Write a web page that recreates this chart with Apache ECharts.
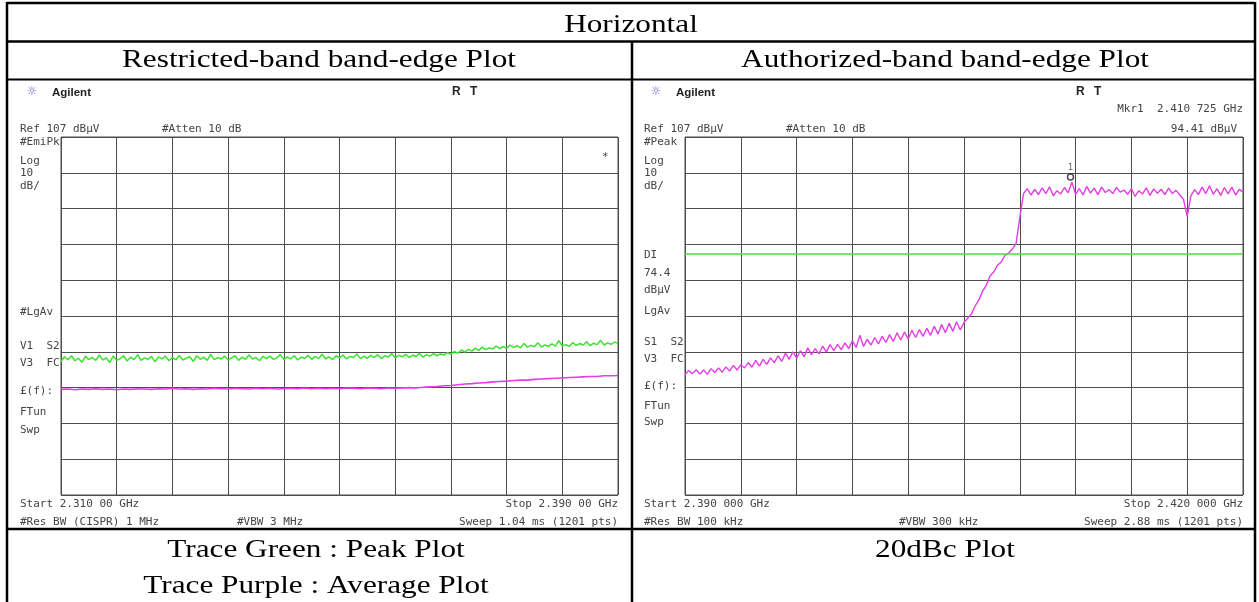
<!DOCTYPE html>
<html><head><meta charset="utf-8">
<script src="https://cdn.jsdelivr.net/npm/echarts@6/dist/echarts.min.js"></script>
<style>html,body{margin:0;padding:0;background:#fff}#c{width:1259px;height:602px}</style>
</head><body><div id="c"></div>
<script>
// ---------- DATA ----------
// Restricted-band plot: 2310 - 2390 MHz, levels in dBuV
const restrictedStartMHz = 2310;
const restrictedStopMHz = 2390;
// green trace (peak), sampled every 0.5 MHz
const peakTrace = [
 44.3,45.6,44.8,45.9,44.5,45.2,44.1,45.7,44.9,45.4,
 44.6,46.1,44.7,45.3,44.0,45.8,44.6,45.1,45.9,44.4,
 45.5,44.8,46.2,44.6,45.3,44.9,45.7,44.2,45.6,45.0,
 45.8,44.5,45.4,44.8,46.0,44.7,45.2,45.6,44.3,45.9,
 44.9,45.5,44.6,46.3,44.8,45.4,45.0,45.8,44.7,45.3,
 45.9,44.6,45.5,44.9,46.1,45.0,45.4,44.5,45.7,45.1,
 45.8,44.9,45.3,46.2,44.8,45.6,45.0,45.9,44.7,45.5,
 45.2,46.0,44.9,45.7,45.1,46.3,45.0,45.6,44.8,45.9,
 45.3,46.1,45.0,45.7,45.4,46.4,45.1,45.8,45.2,46.0,
 45.4,46.2,45.1,45.9,45.5,46.5,45.3,46.0,45.6,46.3,
 45.4,46.1,45.7,46.6,45.5,46.2,45.8,46.5,45.9,46.4,
 46.1,46.8,46.3,47.1,46.6,47.5,46.9,47.7,47.2,48.0,
 47.4,48.3,47.6,48.1,47.8,48.6,47.9,48.4,48.0,48.9,
 48.2,48.7,48.1,49.3,48.3,48.8,48.4,49.5,48.3,48.9,
 48.5,49.2,48.6,50.1,48.7,49.0,48.5,49.6,48.8,49.3,
 48.9,49.8,48.7,49.4,49.0,50.2,48.9,49.5,49.1,49.7,
 49.4
];
// purple trace (average), sampled every 1 MHz
const avgTrace = [
 36.5,36.6,36.4,36.6,36.5,36.7,36.5,36.6,36.4,36.6,
 36.5,36.7,36.6,36.5,36.7,36.6,36.8,36.6,36.7,36.5,
 36.7,36.6,36.8,36.7,36.6,36.8,36.7,36.6,36.8,36.7,
 36.8,36.6,36.7,36.8,36.7,36.9,36.7,36.8,36.7,36.8,
 36.7,36.9,36.8,36.7,36.9,36.8,36.7,36.9,36.8,36.9,
 37.0,36.9,37.1,37.2,37.3,37.5,37.6,37.8,38.0,38.1,
 38.3,38.4,38.6,38.7,38.8,39.0,39.1,39.1,39.3,39.4,
 39.5,39.6,39.7,39.8,39.9,40.0,40.1,40.1,40.3,40.3,
 40.4
];
// Authorized-band plot: 2390 - 2420 MHz, sampled every 0.2 MHz
const authorizedStartMHz = 2390;
const authorizedStopMHz = 2420;
const authTrace = [
 40.6,41.8,40.9,42.0,40.8, 41.9,40.7,42.3,41.2,42.5,
 41.3,42.8,41.6,43.2,41.9, 43.4,42.5,44.0,42.7,44.6,
 43.0,44.9,43.5,45.3,43.9, 45.9,44.3,46.6,44.9,47.0,
 45.2,47.3,45.6,48.1,46.2, 47.9,46.4,48.6,46.9,49.0,
 47.3,49.1,47.6,49.5,47.9, 50.1,48.2,51.6,48.5,50.5,
 48.9,51.0,49.2,51.3,49.6, 51.8,49.9,52.3,50.3,52.5,
 50.6,53.0,51.0,53.2,51.3, 53.6,51.6,54.1,52.0,54.6,
 52.3,55.0,52.7,55.4,53.1, 55.2,
 56.4,57.6,59.8,61.5,63.9,65.6,68.2,69.3,71.2,72.1,73.9,74.6,75.7,77.2,84.5,91.2,92.6,
 90.8,92.4,90.9,92.8,91.2,93.1,90.6,
 92.0,91.1,92.9,91.4,94.4, 91.0,92.6,90.8,93.2,91.3,
 92.7,90.9,93.0,91.5,92.3, 91.2,92.9,91.6,92.2,91.0,
 92.6,90.4,92.0,91.1,92.8, 90.7,92.5,91.3,92.4,90.9,
 92.7,91.2,92.1,90.8,89.6, 84.8,90.6,92.3,90.9,93.0,
 91.2,93.4,91.0,92.6,90.7, 92.9,91.1,93.0,90.8,92.4,
 91.6
];
const displayLineLevel = 74.4;          // DI 74.4 dBuV
const markerPoint = [2410.725, 94.41];  // Mkr1
const refLevel = 107;
const dbPerDiv = 10;
const gridDivisions = 10;

// ---------- helpers ----------
function sweep(values, start, stop) {
  const n = values.length;
  return values.map((v, i) => [start + (stop - start) * i / (n - 1), v]);
}
const MONO = 'DejaVu Sans Mono';
const SERIF = 'Liberation Serif';
function txt(x, y, text, o) {
  o = o || {};
  const align = o.align || 'left';
  return {
    type: 'text', x: x, y: y, scaleX: o.sx || 1, silent: true, z: 10,
    style: {
      text: text, fill: o.fill || '#444',
      fontSize: o.size || 11, fontFamily: o.family || MONO, fontWeight: o.weight || 'normal',
      align: align, textAlign: align, verticalAlign: 'middle', textVerticalAlign: 'middle'
    }
  };
}
function line(x1, y1, x2, y2, w) {
  return { type: 'line', silent: true, z: 20, shape: { x1, y1, x2, y2 }, style: { stroke: '#000', lineWidth: w || 2.5 } };
}

const gridColor = '#4d4d4d';
function gridAxis(gi) {
  return { gridIndex: gi, type: 'value', min: 0, max: gridDivisions, interval: 1,
    axisLine: { show: false }, axisTick: { show: false }, axisLabel: { show: false },
    splitLine: { show: true, lineStyle: { color: gridColor, width: 1 } } };
}
function dataX(gi, a, b) { return { gridIndex: gi, type: 'value', min: a, max: b, show: false }; }
function dataY(gi) { return { gridIndex: gi, type: 'value', min: refLevel - dbPerDiv * gridDivisions, max: refLevel, show: false }; }

// ---------- graphic (table + analyzer annotations) ----------
const g = [];
g.push(line(7, 3, 1255, 3));
g.push(line(7, 2, 7, 602));
g.push(line(1255, 2, 1255, 602));
g.push(line(7, 41.5, 1255, 41.5));
g.push(line(7, 79.5, 1255, 79.5, 2));
g.push(line(7, 529, 1255, 529));
g.push(line(632, 41.5, 632, 602));
const cap = { family: SERIF, size: 25, sx: 1.25, fill: '#000', align: 'center' };
g.push(txt(631, 25, 'Horizontal', cap));
g.push(txt(319, 60, 'Restricted-band band-edge Plot', cap));
g.push(txt(945, 60, 'Authorized-band band-edge Plot', cap));
g.push(txt(316, 550, 'Trace Green : Peak Plot', cap));
g.push(txt(316, 586, 'Trace Purple : Average Plot', cap));
g.push(txt(945, 550, '20dBc Plot', cap));

function panel(dx, L) {
  g.push(txt(dx + 32, 92, '\u263C', { family: 'DejaVu Sans', size: 12, fill: '#6d63e6', align: 'center' }));
  g.push(txt(dx + 52, 93, 'Agilent', { family: 'Liberation Sans', size: 11.5, weight: 'bold', fill: '#222' }));
  g.push(txt(dx + 452, 92, 'R', { family: 'Liberation Sans', size: 12, weight: 'bold', fill: '#222' }));
  g.push(txt(dx + 470, 92, 'T', { family: 'Liberation Sans', size: 12, weight: 'bold', fill: '#222' }));
  g.push(txt(dx + 20, 129, 'Ref 107 dB\u00b5V'));
  g.push(txt(dx + 162, 129, '#Atten 10 dB'));
  L.forEach(function (p) { g.push(txt(dx + 20, p[1], p[0])); });
}
panel(0, [['#EmiPk', 142], ['Log', 161], ['10', 173], ['dB/', 186], ['#LgAv', 312], ['V1  S2', 346], ['V3  FC', 363], ['\u00a3(f):', 391], ['FTun', 412], ['Swp', 430]]);
panel(624, [['#Peak', 142], ['Log', 161], ['10', 173], ['dB/', 186], ['DI', 255], ['74.4', 273], ['dB\u00b5V', 290], ['LgAv', 311], ['S1  S2', 342], ['V3  FC', 359], ['\u00a3(f):', 386], ['FTun', 406], ['Swp', 422]]);
g.push(txt(602, 157, '*', { size: 11 }));
g.push(txt(20, 504, 'Start 2.310 00 GHz'));
g.push(txt(618, 504, 'Stop 2.390 00 GHz', { align: 'right' }));
g.push(txt(20, 522, '#Res BW (CISPR) 1 MHz'));
g.push(txt(237, 522, '#VBW 3 MHz'));
g.push(txt(618, 522, 'Sweep 1.04 ms (1201 pts)', { align: 'right' }));
g.push(txt(644, 504, 'Start 2.390 000 GHz'));
g.push(txt(1243, 504, 'Stop 2.420 000 GHz', { align: 'right' }));
g.push(txt(644, 522, '#Res BW 100 kHz'));
g.push(txt(899, 522, '#VBW 300 kHz'));
g.push(txt(1243, 522, 'Sweep 2.88 ms (1201 pts)', { align: 'right' }));
g.push(txt(1243, 109, 'Mkr1  2.410 725 GHz', { align: 'right' }));
g.push(txt(1237, 129, '94.41 dB\u00b5V', { align: 'right' }));

const chart = echarts.init(document.getElementById('c'), null, { renderer: 'canvas' });
chart.setOption({
  animation: false,
  backgroundColor: '#fff',
  grid: [
    { left: 61, top: 137, width: 557, height: 358, show: true, borderColor: gridColor, borderWidth: 1 },
    { left: 685, top: 137, width: 558, height: 358, show: true, borderColor: gridColor, borderWidth: 1 }
  ],
  xAxis: [gridAxis(0), dataX(0, restrictedStartMHz, restrictedStopMHz), gridAxis(1), dataX(1, authorizedStartMHz, authorizedStopMHz)],
  yAxis: [gridAxis(0), dataY(0), gridAxis(1), dataY(1)],
  series: [
    { type: 'line', xAxisIndex: 1, yAxisIndex: 1, data: sweep(peakTrace, restrictedStartMHz, restrictedStopMHz),
      showSymbol: false, lineStyle: { color: '#3be22e', width: 1.5 }, z: 3 },
    { type: 'line', xAxisIndex: 1, yAxisIndex: 1, data: sweep(avgTrace, restrictedStartMHz, restrictedStopMHz),
      showSymbol: false, lineStyle: { color: '#e63ce6', width: 1.6 }, z: 3 },
    { type: 'line', xAxisIndex: 3, yAxisIndex: 3, data: sweep(authTrace, authorizedStartMHz, authorizedStopMHz),
      showSymbol: false, lineStyle: { color: '#e63ce6', width: 1.4 }, z: 3,
      markLine: { silent: true, symbol: 'none', label: { show: false },
        lineStyle: { color: '#4fdc3c', width: 1.6, type: 'solid' }, data: [{ yAxis: displayLineLevel }] } },
    { type: 'scatter', xAxisIndex: 3, yAxisIndex: 3, data: [markerPoint], symbol: 'circle', symbolSize: 6,
      symbolOffset: [0, -5], itemStyle: { color: '#fff', borderColor: '#222', borderWidth: 1.5 }, z: 5,
      label: { show: true, position: 'top', distance: 1, formatter: '1', fontSize: 8, color: '#333', fontFamily: MONO } }
  ],
  graphic: g
});
</script></body></html>
